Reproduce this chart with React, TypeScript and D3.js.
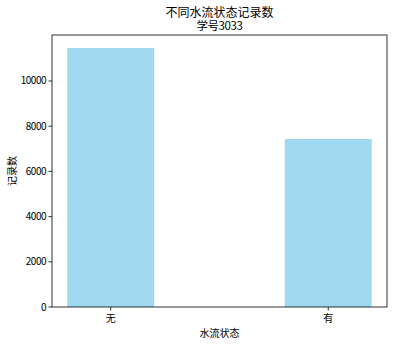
import React from "react";
import * as d3 from "d3";

const categories = ["无", "有"];
const counts = [11460, 7434];
const yTicks = [0, 2000, 4000, 6000, 8000, 10000];
const titleLines = ["不同水流状态记录数", "学号3033"];
const xLabel = "水流状态";
const yLabel = "记录数";

const W = 394, H = 344;
const L = 52, R = 387, T = 35, B = 307;
const FONT = "'Noto Sans CJK SC', 'Noto Sans', sans-serif";

export default function App() {
  const x = d3.scaleLinear().domain([-0.27, 1.27]).range([L, R]);
  const y = d3.scaleLinear().domain([0, 12035]).range([B, T]);
  const bw = 0.4;
  return (
    <svg width={W} height={H} style={{ position: "absolute", left: 0, top: 0, background: "#fff" }} fontFamily={FONT}>
      {counts.map((v, i) => (
        <rect key={i} x={x(i - bw / 2)} y={y(v)} width={x(i + bw / 2) - x(i - bw / 2)} height={y(0) - y(v)} fill="#87ceeb" fillOpacity={0.8} />
      ))}
      <rect x={L} y={T} width={R - L} height={B - T} fill="none" stroke="#000" strokeWidth={0.8} />
      {yTicks.map(t => (
        <g key={t}>
          <line x1={L - 3.5} x2={L} y1={y(t)} y2={y(t)} stroke="#000" strokeWidth={0.8} />
          <text x={L - 6} y={y(t)} dy="0.35em" textAnchor="end" fontSize={10} letterSpacing={-0.5}>{t}</text>
        </g>
      ))}
      {categories.map((c, i) => (
        <g key={c}>
          <line x1={x(i)} x2={x(i)} y1={B} y2={B + 3.5} stroke="#000" strokeWidth={0.8} />
          <text x={x(i)} y={B + 15} textAnchor="middle" fontSize={10}>{c}</text>
        </g>
      ))}
      <text x={(L + R) / 2} y={337} textAnchor="middle" fontSize={10}>{xLabel}</text>
      <text transform={`translate(16,${(T + B) / 2}) rotate(-90)`} textAnchor="middle" fontSize={10}>{yLabel}</text>
      <text textAnchor="middle" fontSize={12}>
        <tspan x={(L + R) / 2} y={16.5}>{titleLines[0]}</tspan>
        <tspan x={(L + R) / 2} y={29.5} fontSize={11.5} letterSpacing={-0.4}>{titleLines[1]}</tspan>
      </text>
    </svg>
  );
}
